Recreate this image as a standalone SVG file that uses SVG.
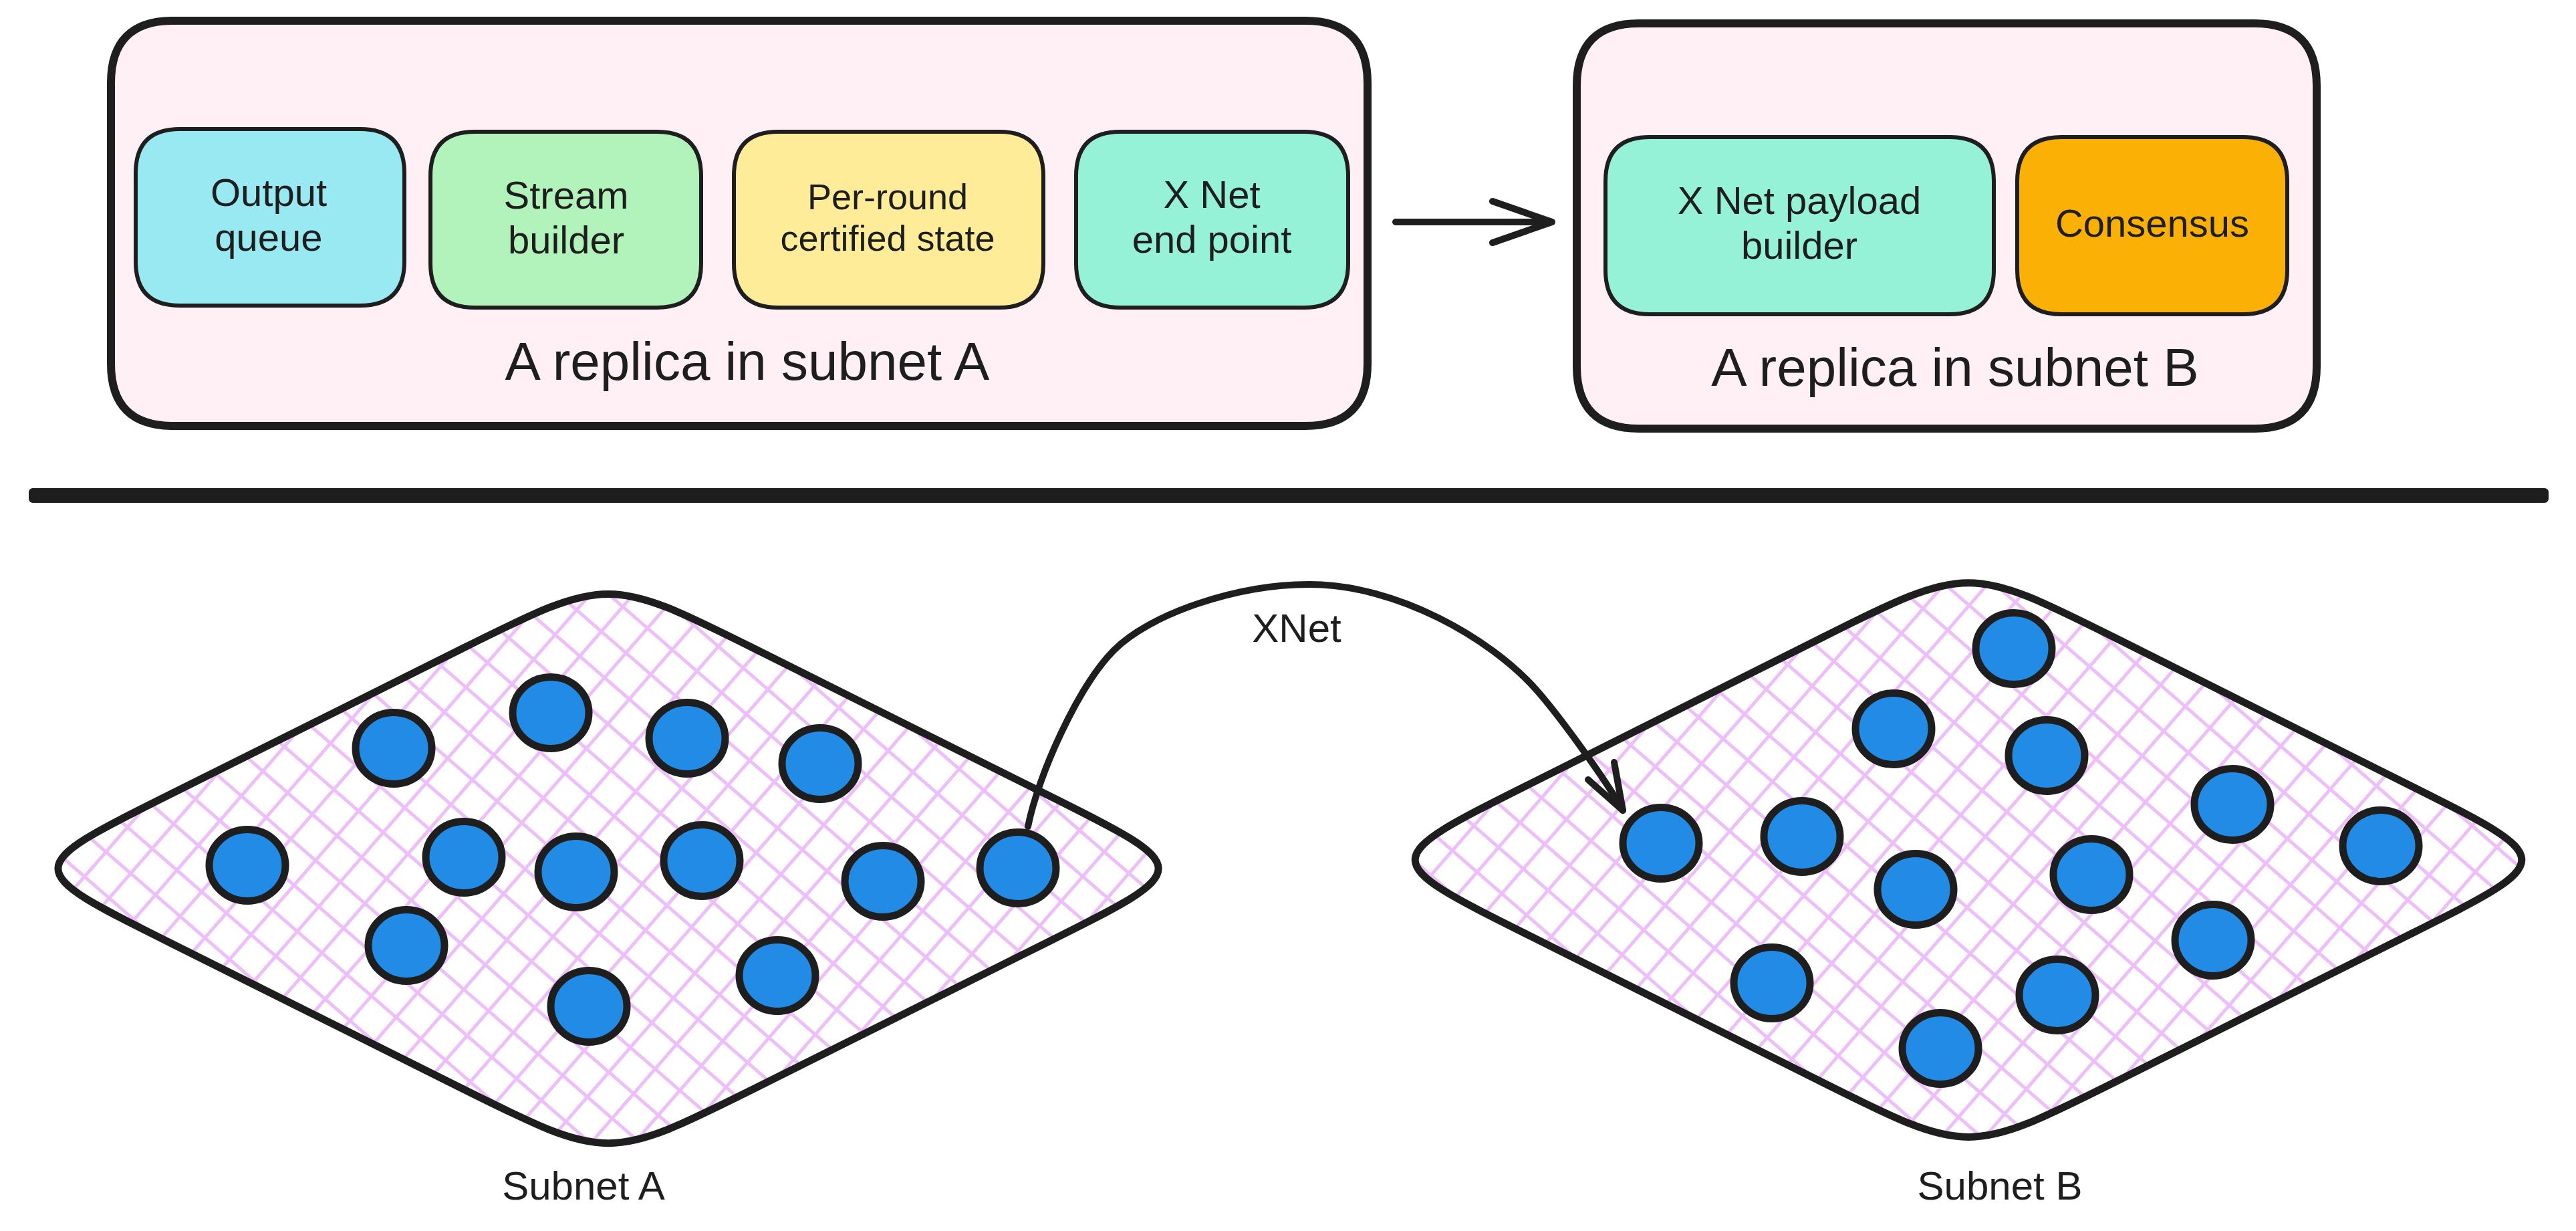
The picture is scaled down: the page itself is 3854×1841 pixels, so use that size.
<svg xmlns="http://www.w3.org/2000/svg" width="3854" height="1841" viewBox="0 0 3854 1841">
  <style>
    .bg { fill: #ffffff; }
    .replica { fill: #fff0f6; stroke: #1e1e1e; stroke-width: 12; }
    .comp { stroke: #1e1e1e; stroke-width: 6; }
    .txt { font-family: "Liberation Sans", Arial, sans-serif; fill: #1e1e1e; text-anchor: middle; }
    .t58 { font-size: 58px; }
    .t54 { font-size: 54px; }
    .t80 { font-size: 80px; }
    .t60 { font-size: 60px; }
    .subnet { fill: url(#hatch); stroke: #1e1e1e; stroke-width: 11; stroke-linejoin: round; }
    .node { fill: #228be6; stroke: #1e1e1e; stroke-width: 11; }
    .conn { fill: none; stroke: #1e1e1e; stroke-width: 10; stroke-linecap: round; stroke-linejoin: round; }
  </style>
  <defs>
    <pattern id="hatch" patternUnits="userSpaceOnUse" width="49" height="49" patternTransform="rotate(41)">
      <rect width="49" height="49" fill="#ffffff"/>
      <path d="M0 24.5 H49 M24.5 0 V49" stroke="#eebefa" stroke-width="5"/>
    </pattern>
  </defs>
  <rect class="bg" x="0" y="0" width="3854" height="1841"/>

  <!-- Top section: replica in subnet A -->
  <g id="replica-a">
    <path class="replica" d="M259 31 L1953 31 Q2046 31 2046 124 L2046 544 Q2046 637 1953 637 L259 637 Q166 637 166 544 L166 124 Q166 31 259 31 Z"/>
    <text class="txt t80" x="1118" y="568">A replica in subnet A</text>
  </g>
  <g id="output-queue">
    <path class="comp" fill="#99e9f2" d="M269 193 L539 193 Q605 193 605 259 L605 391 Q605 457 539 457 L269 457 Q203 457 203 391 L203 259 Q203 193 269 193 Z"/>
    <text class="txt t58" x="402" y="308">Output</text>
    <text class="txt t58" x="402" y="375">queue</text>
  </g>
  <g id="stream-builder">
    <path class="comp" fill="#b2f2bb" d="M710 197 L983 197 Q1049 197 1049 263 L1049 394 Q1049 460 983 460 L710 460 Q644 460 644 394 L644 263 Q644 197 710 197 Z"/>
    <text class="txt t58" x="847" y="312">Stream</text>
    <text class="txt t58" x="847" y="379">builder</text>
  </g>
  <g id="per-round-certified-state">
    <path class="comp" fill="#ffec99" d="M1164 197 L1495 197 Q1561 197 1561 263 L1561 394 Q1561 460 1495 460 L1164 460 Q1098 460 1098 394 L1098 263 Q1098 197 1164 197 Z"/>
    <text class="txt t54" x="1328" y="313">Per-round</text>
    <text class="txt t54" x="1328" y="375">certified state</text>
  </g>
  <g id="xnet-end-point">
    <path class="comp" fill="#96f2d7" d="M1676 197 L1951 197 Q2017 197 2017 263 L2017 394 Q2017 460 1951 460 L1676 460 Q1610 460 1610 394 L1610 263 Q1610 197 1676 197 Z"/>
    <text class="txt t58" x="1813" y="311">X Net</text>
    <text class="txt t58" x="1813" y="378">end point</text>
  </g>

  <!-- Top section: replica in subnet B -->
  <g id="replica-b">
    <path class="replica" d="M2452 35 L3373 35 Q3466 35 3466 128 L3466 548 Q3466 641 3373 641 L2452 641 Q2359 641 2359 548 L2359 128 Q2359 35 2452 35 Z"/>
    <text class="txt t80" x="2925" y="577">A replica in subnet B</text>
  </g>
  <g id="xnet-payload-builder">
    <path class="comp" fill="#96f2d7" d="M2468 205 L2917 205 Q2983 205 2983 271 L2983 404 Q2983 470 2917 470 L2468 470 Q2402 470 2402 404 L2402 271 Q2402 205 2468 205 Z"/>
    <text class="txt t58" x="2692" y="320">X Net payload</text>
    <text class="txt t58" x="2692" y="387">builder</text>
  </g>
  <g id="consensus">
    <path class="comp" fill="#fab005" d="M3084 205 L3356 205 Q3422 205 3422 271 L3422 404 Q3422 470 3356 470 L3084 470 Q3018 470 3018 404 L3018 271 Q3018 205 3084 205 Z"/>
    <text class="txt t58" x="3220" y="354">Consensus</text>
  </g>

  <!-- Divider -->
  <g id="divider">
    <rect x="43" y="730" width="3770" height="22" rx="6" fill="#1e1e1e"/>
  </g>

  <!-- Bottom section: subnet A -->
  <g id="subnet-a">
    <path class="subnet" d="M1129.5 970.5 L1568.5 1189.5 C1788 1299 1788 1299 1568.5 1408.5 L1129.5 1627.5 C910 1737 910 1737 690.5 1627.5 L251.5 1408.5 C32 1299 32 1299 251.5 1189.5 L690.5 970.5 C910 861 910 861 1129.5 970.5 Z"/>
    <text class="txt t60" x="873" y="1794">Subnet A</text>
  </g>
  <g id="subnet-a-nodes">
    <g id="a-node-1"><ellipse class="node" cx="370" cy="1294" rx="57" ry="53.5"/></g>
    <g id="a-node-2"><ellipse class="node" cx="589" cy="1119" rx="57" ry="53.5"/></g>
    <g id="a-node-3"><ellipse class="node" cx="824" cy="1066" rx="57" ry="53.5"/></g>
    <g id="a-node-4"><ellipse class="node" cx="694" cy="1282" rx="57" ry="53.5"/></g>
    <g id="a-node-5"><ellipse class="node" cx="862" cy="1304" rx="57" ry="53.5"/></g>
    <g id="a-node-6"><ellipse class="node" cx="608" cy="1414" rx="57" ry="53.5"/></g>
    <g id="a-node-7"><ellipse class="node" cx="881" cy="1505" rx="57" ry="53.5"/></g>
    <g id="a-node-8"><ellipse class="node" cx="1028" cy="1104" rx="57" ry="53.5"/></g>
    <g id="a-node-9"><ellipse class="node" cx="1227" cy="1142" rx="57" ry="53.5"/></g>
    <g id="a-node-10"><ellipse class="node" cx="1050" cy="1287" rx="57" ry="53.5"/></g>
    <g id="a-node-11"><ellipse class="node" cx="1321" cy="1318" rx="57" ry="53.5"/></g>
    <g id="a-node-12"><ellipse class="node" cx="1523" cy="1298" rx="57" ry="53.5"/></g>
    <g id="a-node-13"><ellipse class="node" cx="1163" cy="1459" rx="57" ry="53.5"/></g>
  </g>

  <!-- Bottom section: subnet B -->
  <g id="subnet-b">
    <path class="subnet" d="M3165.75 954.5 L3607.25 1175.5 C3828 1286 3828 1286 3607.25 1396.5 L3165.75 1617.5 C2945 1728 2945 1728 2724.25 1617.5 L2282.75 1396.5 C2062 1286 2062 1286 2282.75 1175.5 L2724.25 954.5 C2945 844 2945 844 3165.75 954.5 Z"/>
    <text class="txt t60" x="2992" y="1794">Subnet B</text>
  </g>
  <g id="subnet-b-nodes">
    <g id="b-node-1"><ellipse class="node" cx="2485" cy="1261" rx="57" ry="53.5"/></g>
    <g id="b-node-2"><ellipse class="node" cx="2696" cy="1251" rx="57" ry="53.5"/></g>
    <g id="b-node-3"><ellipse class="node" cx="2833" cy="1090" rx="57" ry="53.5"/></g>
    <g id="b-node-4"><ellipse class="node" cx="2866" cy="1330" rx="57" ry="53.5"/></g>
    <g id="b-node-5"><ellipse class="node" cx="2651" cy="1470" rx="57" ry="53.5"/></g>
    <g id="b-node-6"><ellipse class="node" cx="2903" cy="1568" rx="57" ry="53.5"/></g>
    <g id="b-node-7"><ellipse class="node" cx="3013" cy="970" rx="57" ry="53.5"/></g>
    <g id="b-node-8"><ellipse class="node" cx="3062" cy="1130" rx="57" ry="53.5"/></g>
    <g id="b-node-9"><ellipse class="node" cx="3340" cy="1203" rx="57" ry="53.5"/></g>
    <g id="b-node-10"><ellipse class="node" cx="3562" cy="1265" rx="57" ry="53.5"/></g>
    <g id="b-node-11"><ellipse class="node" cx="3129" cy="1308" rx="57" ry="53.5"/></g>
    <g id="b-node-12"><ellipse class="node" cx="3311" cy="1406" rx="57" ry="53.5"/></g>
    <g id="b-node-13"><ellipse class="node" cx="3078" cy="1488" rx="57" ry="53.5"/></g>
  </g>

  <!-- Connectors -->
  <g id="connectors">
    <path class="conn" d="M2088 332 L2322 332 M2233 301 L2322 332 L2233 363"/>
    <path class="conn" d="M1538 1236 C1553 1160 1612 1028 1666 973 C1720 918 1850 874 1959 874 C2090 874 2230 955 2297 1030 C2332 1069 2403 1167 2428 1212"/>
    <path class="conn" d="M2376 1166 L2428 1212 L2415 1140"/>
    <text class="txt t60" x="1940" y="960">XNet</text>
  </g>
</svg>
